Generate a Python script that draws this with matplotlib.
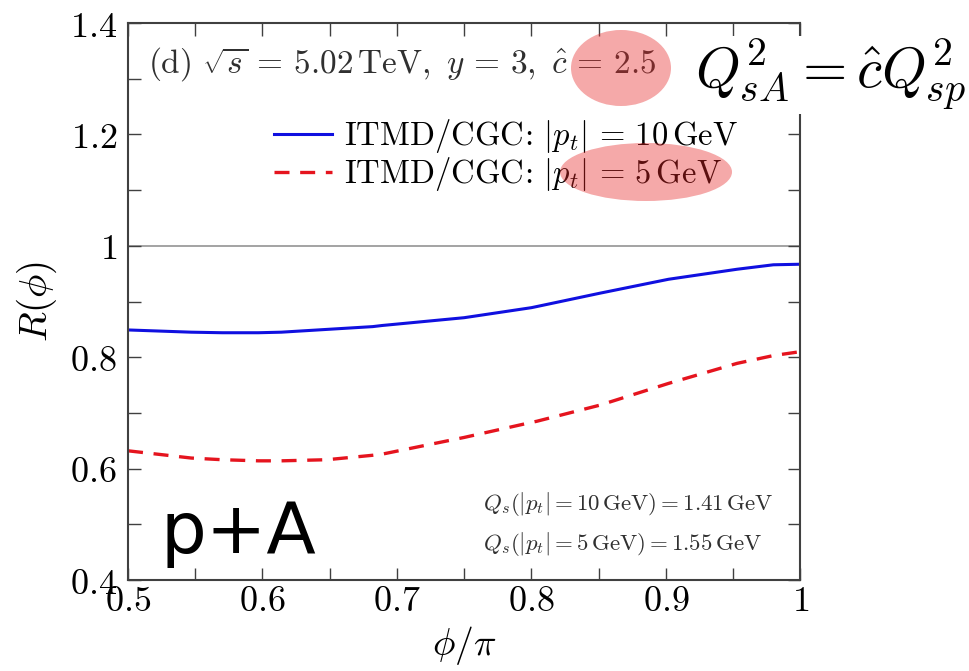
import matplotlib
matplotlib.use("Agg")
import matplotlib.pyplot as plt
from matplotlib.patches import Ellipse

# values
phi = [0.5, 0.547, 0.570, 0.597, 0.614, 0.648, 0.682, 0.689, 0.750, 0.800, 0.804,
       0.851, 0.902, 0.919, 0.953, 0.980, 1.0]
r_10 = [0.849, 0.845, 0.844, 0.844, 0.845, 0.850, 0.855, 0.857, 0.871, 0.889, 0.891,
        0.915, 0.940, 0.946, 0.958, 0.966, 0.967]
r_5 = [0.632, 0.619, 0.616, 0.614, 0.614, 0.616, 0.624, 0.626, 0.656, 0.683, 0.685,
       0.714, 0.753, 0.765, 0.789, 0.803, 0.810]

xticks = [0.5, 0.6, 0.7, 0.8, 0.9, 1.0]
xlabels = ["0.5", "0.6", "0.7", "0.8", "0.9", "1"]
yticks = [0.4, 0.6, 0.8, 1.0, 1.2, 1.4]
ylabels = ["0.4", "0.6", "0.8", "1", "1.2", "1.4"]

plt.rcParams['mathtext.fontset'] = 'cm'
plt.rcParams['font.family'] = ['DejaVu Serif']

fig = plt.figure(figsize=(9.7, 6.71), dpi=100)
ax = fig.add_axes([0.132, 0.1356, 0.693, 0.83])

ax.axhline(1.0, color='#8a8a8a', lw=1.1, zorder=1)
ax.plot(phi, r_10, color='#1010e0', lw=2.2,
        label=r'$\mathrm{ITMD/CGC}\!:\,|p_t|\, =\, 10\,\mathrm{GeV}$')
ax.plot(phi, r_5, color='#e5141e', lw=2.4, dashes=(4.5, 3.2),
        label=r'$\mathrm{ITMD/CGC}\!:\,|p_t|\, =\, 5\,\mathrm{GeV}$')

ax.set_xlim(0.5, 1.0)
ax.set_ylim(0.4, 1.4)
ax.set_xticks(xticks)
ax.set_xticklabels(['$' + s + '$' for s in xlabels], fontsize=26)
ax.set_yticks(yticks)
ax.set_yticklabels(['$' + s + '$' for s in ylabels], fontsize=26)
ax.set_xticks([0.55, 0.65, 0.75, 0.85, 0.95], minor=True)
ax.set_yticks([0.5, 0.7, 0.9, 1.1, 1.3], minor=True)
ax.tick_params(which='both', direction='in', top=True, right=True,
               color='#404040', width=1.0)
ax.tick_params(which='major', length=9)
ax.tick_params(which='minor', length=9)
ax.tick_params(axis='x', pad=3)
ax.tick_params(axis='y', pad=8)
for sp in ax.spines.values():
    sp.set_color('#404040')
    sp.set_linewidth(1.5)

ax.set_xlabel(r'$\phi/\pi$', fontsize=27, labelpad=4)
ax.set_ylabel(r'$R(\phi)$', fontsize=28, labelpad=8)

ax.text(0.03, 0.96,
        r'$\mathrm{(d)}\ \sqrt{s}\, =\, 5.02\,\mathrm{TeV},\ y\, =\, 3,\ \hat{c}\, =\, 2.5$',
        transform=ax.transAxes, fontsize=24, va='top', ha='left', color='#303030')

ax.legend(loc='upper left', bbox_to_anchor=(0.173, 0.884), frameon=False,
          fontsize=23.5, handlelength=1.8, handletextpad=0.34, labelspacing=0.0)

ax.text(0.528, 0.137, r'$Q_s(|p_t| = 10\,\mathrm{GeV}) = 1.41\,\mathrm{GeV}$',
        transform=ax.transAxes, fontsize=16.5, va='center', ha='left', color='#303030')
ax.text(0.528, 0.064, r'$Q_s(|p_t| = 5\,\mathrm{GeV}) = 1.55\,\mathrm{GeV}$',
        transform=ax.transAxes, fontsize=16.5, va='center', ha='left', color='#303030')

fig.text(0.165, 0.205, 'p+A', family='DejaVu Sans', fontsize=52, va='center', ha='left')

fig.text(0.716, 0.888, r'$Q^2_{sA} = \hat{c}Q^2_{sp}$', fontsize=41, va='center',
         ha='left', bbox=dict(facecolor='white', edgecolor='none', pad=1))

fig.patches.append(Ellipse((621 / 970, 1 - 68 / 671), 100 / 970, 76 / 671,
                           transform=fig.transFigure, color='#e62828', alpha=0.4,
                           lw=0, zorder=10))
fig.patches.append(Ellipse((646 / 970, 1 - 172 / 671), 172 / 970, 58 / 671,
                           transform=fig.transFigure, color='#e62828', alpha=0.4,
                           lw=0, zorder=10))

fig.savefig('out.png', dpi=100)
